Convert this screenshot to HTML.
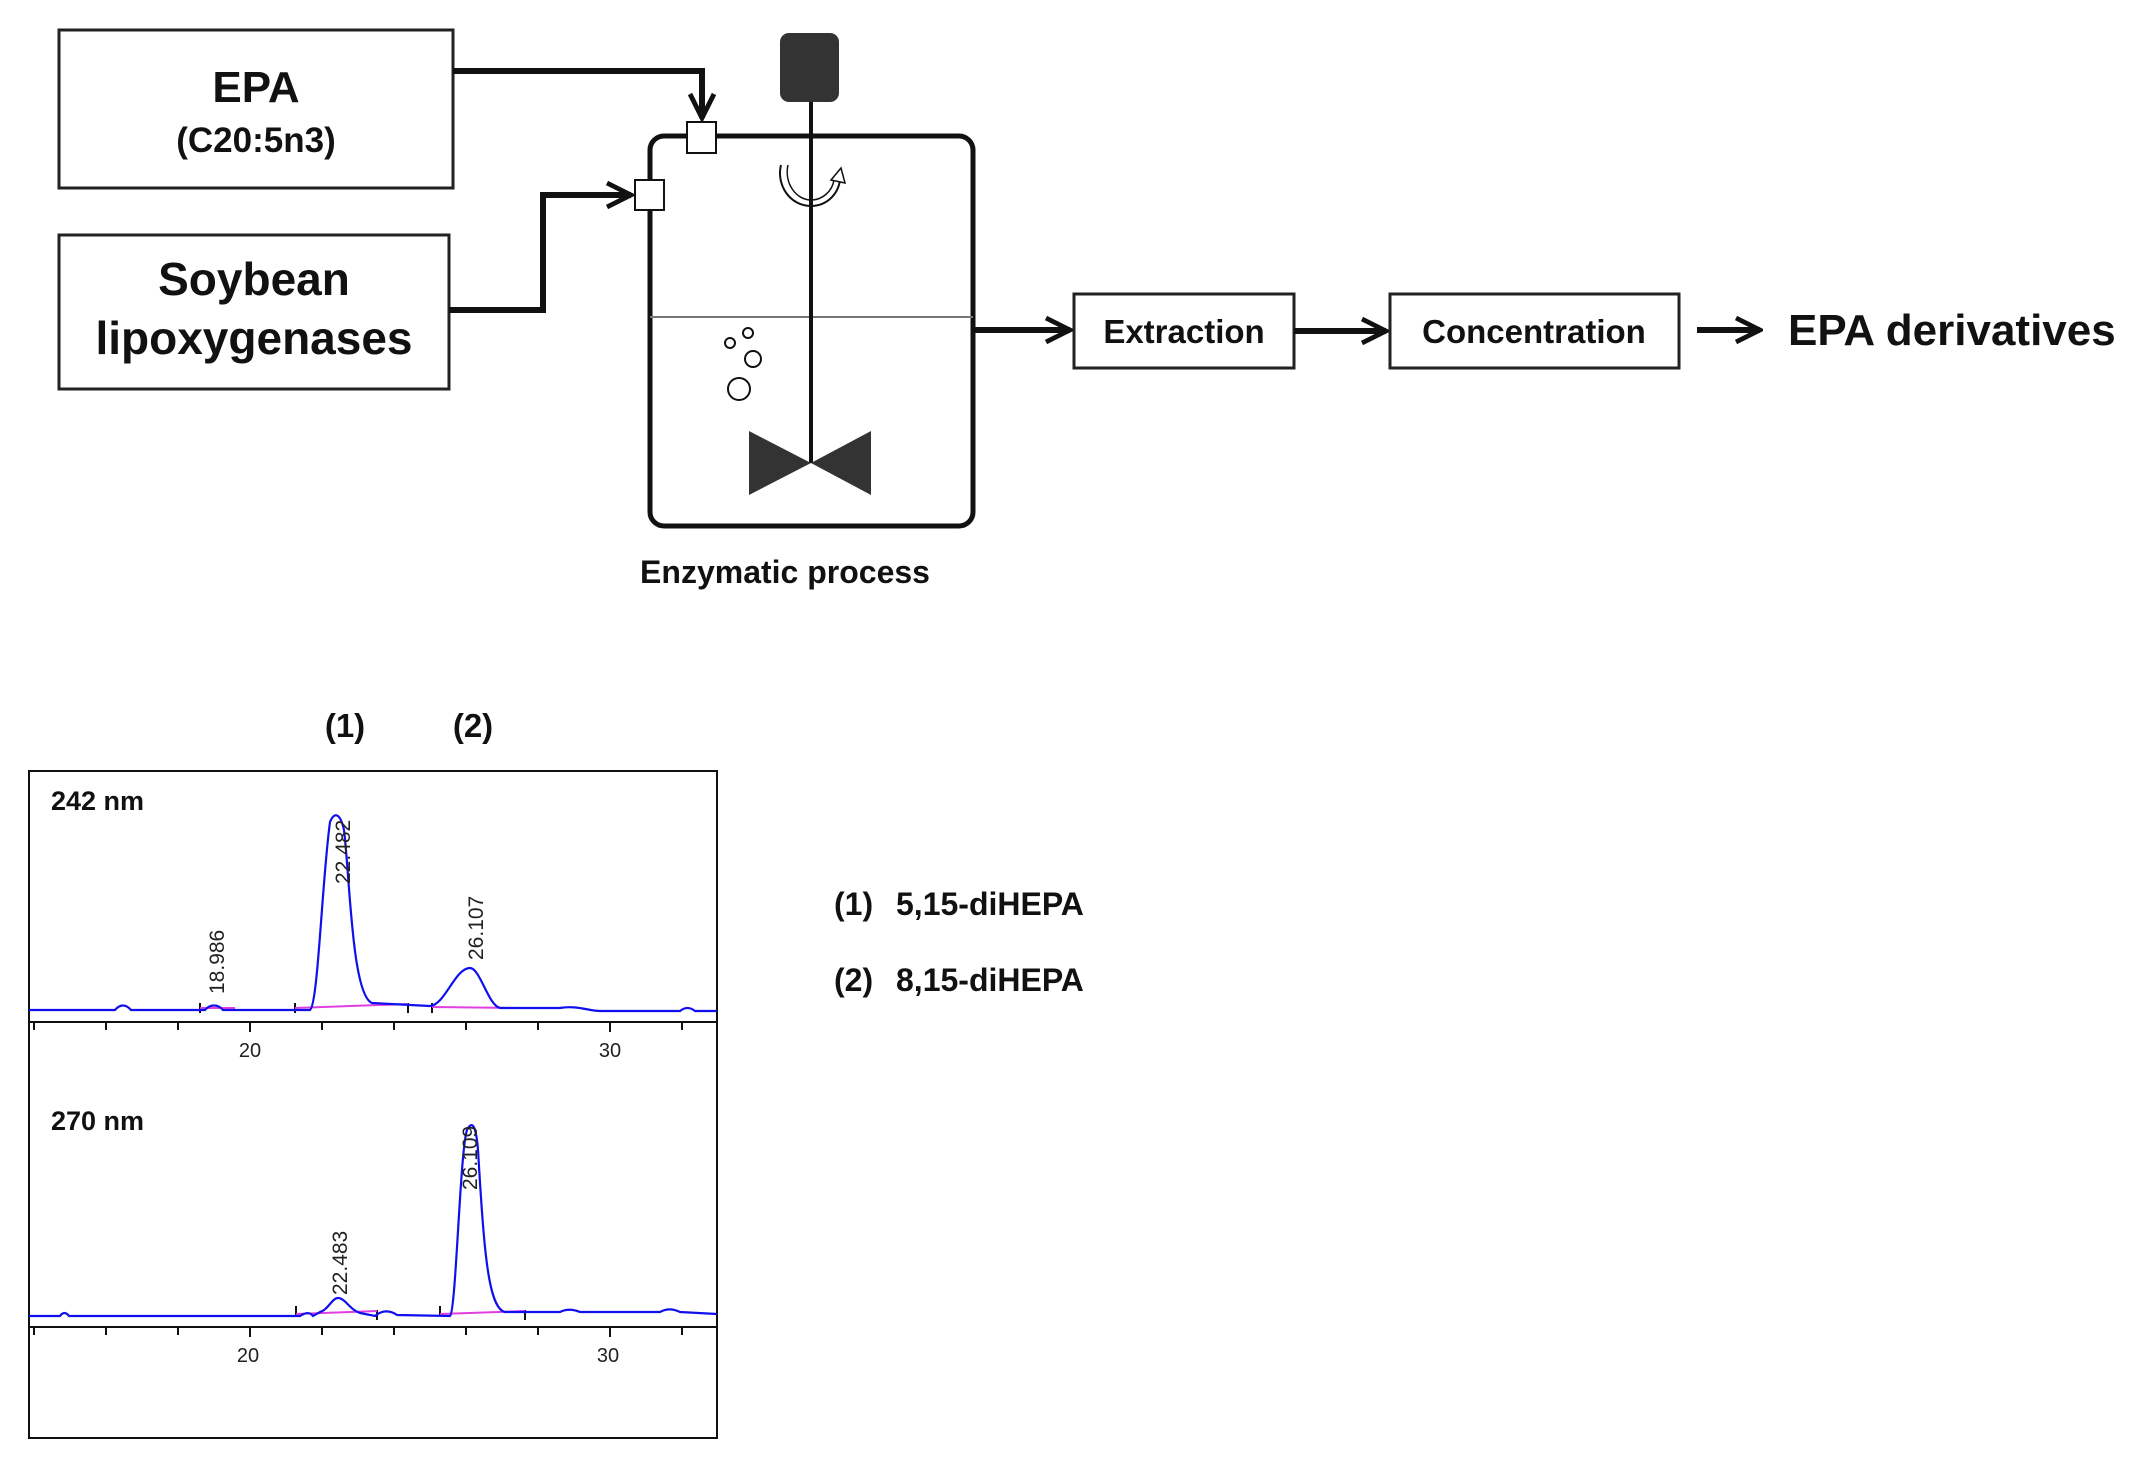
<!DOCTYPE html>
<html><head><meta charset="utf-8"><style>
html,body{margin:0;padding:0;background:#fff}
svg{display:block}
text{font-family:"Liberation Sans",sans-serif}
</style></head><body>
<svg width="2154" height="1469" viewBox="0 0 2154 1469" xmlns="http://www.w3.org/2000/svg">
<defs>
<marker id="ah" viewBox="0 0 10 10" refX="9" refY="5" markerWidth="5" markerHeight="5" orient="auto" markerUnits="strokeWidth">
<path d="M1,1 L9,5 L1,9" fill="none" stroke="#111" stroke-width="1.6"/>
</marker>
</defs>
<g fill="none" stroke="#222" stroke-width="3">
<rect x="59" y="30" width="394" height="158"/>
<rect x="59" y="235" width="390" height="154"/>
<rect x="1074" y="294" width="220" height="74"/>
<rect x="1390" y="294" width="289" height="74"/>
</g>
<g font-weight="bold" fill="#111" text-anchor="middle">
<text x="256" y="102" font-size="44">EPA</text>
<text x="256" y="152" font-size="35">(C20:5n3)</text>
<text x="254" y="295" font-size="46">Soybean</text>
<text x="254" y="354" font-size="46">lipoxygenases</text>
<text x="1184" y="343" font-size="33">Extraction</text>
<text x="1534" y="343" font-size="33">Concentration</text>
<text x="785" y="583" font-size="32">Enzymatic process</text>
<text x="1788" y="345" font-size="44" text-anchor="start">EPA derivatives</text>
</g>
<g fill="none" stroke="#111" stroke-width="6" marker-end="url(#ah)">
<path d="M453,71 L702,71 L702,118"/>
<path d="M449,310 L543,310 L543,195 L631,195"/>
<path d="M973,330 L1070,330"/>
<path d="M1294,331 L1386,331"/>
<path d="M1697,330 L1760,330"/>
</g>
<rect x="650" y="136" width="323" height="390" rx="14" fill="none" stroke="#111" stroke-width="5"/>
<line x1="650" y1="317" x2="973" y2="317" stroke="#777" stroke-width="2"/>
<rect x="780" y="33" width="59" height="69" rx="9" fill="#333"/>
<line x1="811" y1="102" x2="811" y2="463" stroke="#111" stroke-width="4"/>
<path d="M749,431 L811,463 L749,495 Z M871,431 L811,463 L871,495 Z" fill="#333"/>
<rect x="687" y="122" width="29" height="31" fill="#fff" stroke="#111" stroke-width="2"/>
<rect x="635" y="180" width="29" height="30" fill="#fff" stroke="#111" stroke-width="2"/>
<path d="M781,165 C776,185 790,206 811,206 C826,206 838,195 840,180" fill="none" stroke="#111" stroke-width="2"/>
<path d="M788,165 C784,183 796,200 811,200 C822,200 832,192 834,180" fill="none" stroke="#111" stroke-width="1.5"/>
<path d="M831,180 L841,168 L845,183 Z" fill="#fff" stroke="#111" stroke-width="1.5"/>
<g fill="none" stroke="#111" stroke-width="2">
<circle cx="730" cy="343" r="5"/><circle cx="748" cy="333" r="5"/>
<circle cx="753" cy="359" r="8"/><circle cx="739" cy="389" r="11"/>
</g>
<g font-weight="bold" fill="#111" font-size="33" text-anchor="middle">
<text x="345" y="737">(1)</text>
<text x="473" y="737">(2)</text>
</g>
<g font-weight="bold" fill="#111" font-size="32">
<text x="834" y="915">(1)</text><text x="896" y="915">5,15-diHEPA</text>
<text x="834" y="991">(2)</text><text x="896" y="991">8,15-diHEPA</text>
</g>
<rect x="29" y="771" width="688" height="667" fill="none" stroke="#111" stroke-width="2"/>
<line x1="29" y1="1022" x2="717" y2="1022" stroke="#111" stroke-width="2"/>
<line x1="29" y1="1327" x2="717" y2="1327" stroke="#111" stroke-width="2"/>
<g stroke="#111" stroke-width="2">
<path d="M34,1022v8 M106,1022v8 M178,1022v8 M250,1022v10 M322,1022v8 M394,1022v8 M466,1022v8 M538,1022v8 M610,1022v10 M682,1022v8"/>
<path d="M34,1327v8 M106,1327v8 M178,1327v8 M250,1327v10 M322,1327v8 M394,1327v8 M466,1327v8 M538,1327v8 M610,1327v10 M682,1327v8"/>
<path d="M200,1003v10 M295,1003v10 M408,1003v10 M432,1003v10 M296,1306v10 M377,1310v10 M440,1306v10 M525,1310v10"/>
</g>
<g font-size="20" fill="#222" text-anchor="middle">
<text x="250" y="1057">20</text><text x="610" y="1057">30</text>
<text x="248" y="1362">20</text><text x="608" y="1362">30</text>
</g>
<g font-weight="bold" font-size="27" fill="#111">
<text x="51" y="810">242 nm</text>
<text x="51" y="1130">270 nm</text>
</g>
<g stroke="#e040e0" stroke-width="2" fill="none">
<path d="M200,1008 L235,1008 M295,1008 L408,1004 M432,1007 L520,1008"/>
<path d="M296,1314 L377,1311 M440,1314 L525,1311"/>
</g>
<g stroke="#1010ee" stroke-width="2.2" fill="none">
<path d="M29,1010 L115,1010 C120,1004 126,1004 131,1010 L205,1010 C210,1004 218,1004 223,1010 L310,1010 C318,1005 322,880 330,822 C334,812 340,812 344,830 C350,880 352,995 372,1003 L430,1006 C445,1005 455,968 470,968 C480,968 488,1005 500,1008 L560,1008 C575,1005 590,1011 600,1011 L680,1011 C685,1007 690,1007 695,1011 L717,1011"/>
<path d="M29,1316 L60,1316 C63,1312 66,1312 69,1316 L300,1316 C306,1312 310,1312 313,1316 L320,1312 C328,1310 332,1298 338,1298 C345,1298 350,1310 360,1313 L375,1316 C382,1310 390,1310 397,1315 L450,1316 C456,1312 460,1150 467,1130 C472,1120 476,1125 478,1150 C484,1250 488,1308 505,1312 L560,1312 C568,1308 575,1310 580,1312 L660,1312 C667,1308 674,1309 680,1312 L717,1314"/>
</g>
<g font-size="21" fill="#222">
<text transform="translate(224,994) rotate(-90)">18.986</text>
<text transform="translate(350,884) rotate(-90)">22.482</text>
<text transform="translate(483,960) rotate(-90)">26.107</text>
<text transform="translate(347,1295) rotate(-90)">22.483</text>
<text transform="translate(477,1190) rotate(-90)">26.109</text>
</g>
</svg>
</body></html>
